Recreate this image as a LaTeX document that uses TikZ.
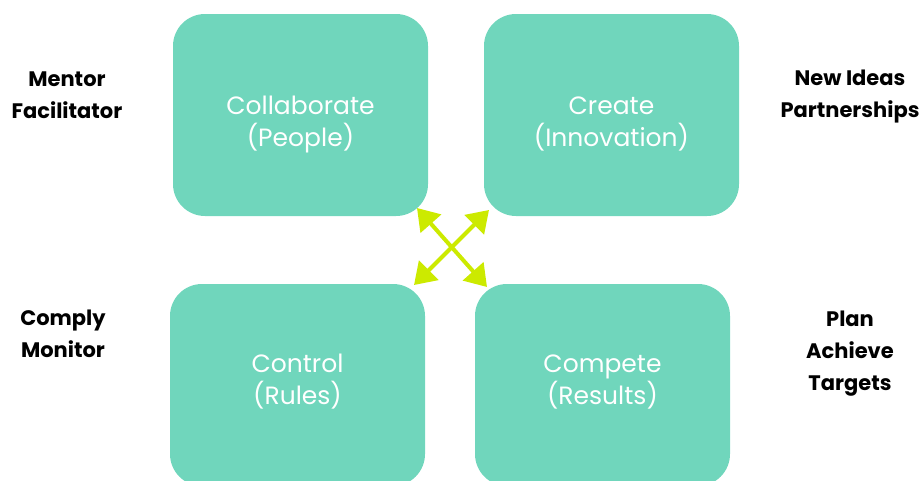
\documentclass[tikz,border=0pt]{standalone}
\usepackage{fontspec}
\setmainfont{Poppins}
\usetikzlibrary{arrows.meta}
\definecolor{quadgreen}{RGB}{112,214,188}
\definecolor{arrowlime}{RGB}{204,234,0}
\begin{document}
\begin{tikzpicture}[x=1pt, y=-1pt,
    quad/.style={rectangle, rounded corners=32pt, fill=quadgreen, minimum width=255pt, minimum height=202pt},
    qtext/.style={text=white, align=center, font=\fontsize{25}{32}\selectfont},
    role/.style={align=center, font=\bfseries\fontsize{21}{32}\selectfont},
    dbl/.style={{Triangle[length=21pt,width=27pt]}-{Triangle[length=21pt,width=27pt]}, line width=4pt, draw=arrowlime}
]
    \useasboundingbox (0,0) rectangle (921,480);
    \clip (0,0) rectangle (921,480);

    \node[quad, label={[qtext, yshift=-9pt]center:{Collaborate\\(People)}}] (collab) at (300.5,115) {};
    \node[quad, label={[qtext, yshift=-9pt]center:{Create\\(Innovation)}}] (create) at (611.5,115) {};
    \node[quad, label={[qtext, yshift=3pt]center:{Control\\(Rules)}}] (control) at (297.5,385) {};
    \node[quad, label={[qtext, yshift=3pt]center:{Compete\\(Results)}}] (compete) at (602.5,385) {};

    \node[role] (mentor) at (67,95) {Mentor\\Facilitator};
    \node[role] (newideas) at (850,97) {New Ideas\\Partnerships};
    \node[role] (comply) at (63,334) {Comply\\Monitor};
    \node[role] (plan) at (850,354) {Plan\\Achieve\\Targets};

    \coordinate (tl) at (417,208);
    \coordinate (br) at (487,287);
    \coordinate (tr) at (489,210);
    \coordinate (bl) at (414,285);
    \draw[dbl] (tl) -- (br);
    \draw[dbl] (tr) -- (bl);
\end{tikzpicture}
\end{document}
